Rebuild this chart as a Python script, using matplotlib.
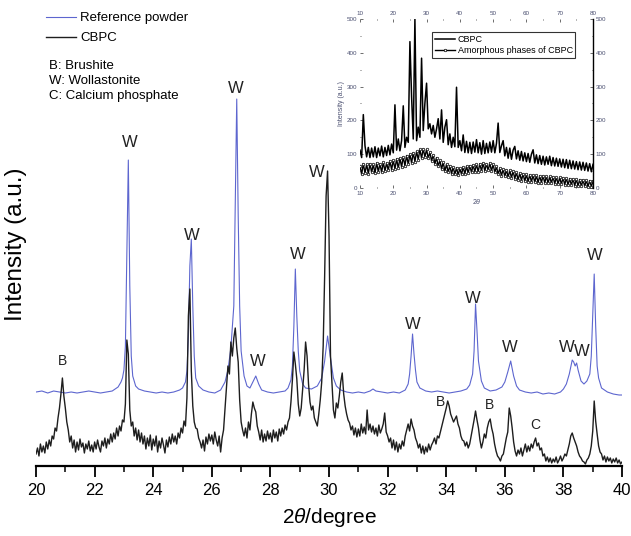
import numpy as np
import matplotlib
matplotlib.use('Agg')
import matplotlib.pyplot as plt
from matplotlib.ticker import MultipleLocator

plt.rcParams['font.family'] = ['Liberation Sans', 'DejaVu Sans']
plt.rcParams['mathtext.fontset'] = 'custom'
plt.rcParams['mathtext.it'] = 'Liberation Sans:italic'

# --- main pattern, 2theta 20-40 ---
# CBPC, sampled every 0.05 deg
cbpc_2theta = np.linspace(20, 40, 401)
cbpc_int = [
    12, 18, 10, 22, 14, 20, 13, 24, 17, 26, 20, 30, 27, 38, 35, 48, 58, 72, 88, 70,
    58, 44, 36, 24, 30, 18, 26, 14, 24, 16, 27, 19, 23, 13, 22, 17, 25, 15, 21, 14,
    24, 17, 26, 19, 14, 25, 20, 28, 18, 27, 22, 32, 24, 33, 27, 38, 30, 40, 35, 46,
    44, 62, 126, 112, 56, 40, 44, 30, 38, 26, 36, 24, 33, 22, 30, 17, 28, 20, 31, 16,
    27, 20, 30, 14, 25, 18, 28, 21, 13, 26, 19, 29, 22, 32, 24, 30, 22, 33, 28, 38,
    33, 45, 40, 68, 150, 177, 95, 60, 44, 38, 37, 28, 24, 18, 26, 15, 29, 22, 32, 25,
    31, 22, 34, 26, 20, 30, 14, 28, 36, 57, 78, 100, 92, 124, 110, 128, 138, 118, 104, 66,
    44, 36, 30, 38, 28, 44, 36, 52, 64, 58, 54, 40, 34, 26, 36, 24, 32, 25, 35, 27,
    33, 24, 36, 28, 34, 25, 37, 30, 38, 32, 41, 36, 44, 48, 64, 86, 114, 102, 87, 62,
    50, 58, 77, 96, 124, 110, 82, 64, 56, 60, 48, 44, 40, 52, 66, 84, 120, 190, 270, 295,
    230, 110, 83, 56, 48, 63, 58, 70, 84, 93, 72, 60, 52, 46, 43, 36, 40, 31, 38, 29,
    37, 30, 42, 33, 39, 32, 56, 36, 42, 34, 40, 32, 38, 30, 41, 33, 37, 42, 53, 34,
    30, 24, 28, 18, 26, 16, 24, 14, 22, 17, 25, 20, 30, 36, 42, 35, 47, 40, 36, 28,
    24, 18, 22, 13, 20, 12, 19, 14, 22, 16, 21, 24, 28, 22, 30, 28, 34, 40, 46, 52,
    58, 65, 60, 52, 48, 44, 47, 50, 42, 38, 30, 26, 25, 20, 24, 18, 22, 30, 38, 46,
    55, 46, 38, 26, 18, 24, 32, 28, 38, 44, 47, 38, 32, 22, 15, 10, 8, 5, 10, 12,
    20, 28, 34, 58, 50, 38, 24, 15, 10, 16, 12, 18, 10, 16, 22, 14, 20, 15, 22, 18,
    24, 28, 20, 23, 16, 18, 10, 12, 5, 9, 4, 8, 3, 7, 4, 9, 3, 6, 10, 5,
    8, 12, 10, 16, 22, 30, 33, 28, 24, 20, 14, 10, 8, 5, 4, 2, 6, 8, 12, 20,
    35, 65, 45, 32, 20, 14, 12, 6, 10, 4, 9, 5, 8, 3, 7, 4, 8, 3, 6, 2,
    4,
]

# reference powder (already offset above the CBPC trace)
ref_2theta = [
    20.0, 20.2, 20.4, 20.6, 20.8, 21.0, 21.2, 21.4, 21.6, 21.8, 22.0, 22.2, 22.4, 22.6,
    22.7, 22.8, 22.9, 22.95, 23.0, 23.05, 23.1, 23.15, 23.2, 23.25, 23.3, 23.4, 23.5,
    23.7, 23.9, 24.1, 24.3, 24.5, 24.7, 24.9, 25.0, 25.1, 25.15, 25.2, 25.25, 25.3,
    25.35, 25.4, 25.45, 25.55, 25.7, 25.9, 26.1, 26.3, 26.45, 26.55, 26.65, 26.75,
    26.8, 26.85, 26.9, 26.95, 27.0, 27.1, 27.2, 27.3, 27.4, 27.5, 27.6, 27.7, 27.9,
    28.1, 28.3, 28.5, 28.6, 28.7, 28.75, 28.8, 28.85, 28.9, 28.95, 29.0, 29.1, 29.2,
    29.4, 29.6, 29.75, 29.85, 29.95, 30.05, 30.15, 30.25, 30.4, 30.6, 30.8, 31.0,
    31.2, 31.4, 31.5, 31.6, 31.8, 32.0, 32.2, 32.4, 32.6, 32.7, 32.75, 32.8, 32.85,
    32.9, 32.95, 33.0, 33.1, 33.3, 33.5, 33.7, 33.9, 34.1, 34.3, 34.5, 34.7, 34.8,
    34.9, 34.95, 35.0, 35.05, 35.1, 35.2, 35.3, 35.5, 35.7, 35.9, 36.0, 36.1, 36.2,
    36.3, 36.4, 36.5, 36.7, 36.9, 37.1, 37.3, 37.5, 37.7, 37.9, 38.0, 38.1, 38.2,
    38.3, 38.35, 38.4, 38.45, 38.5, 38.6, 38.7, 38.8, 38.9, 38.95, 39.0, 39.05, 39.1,
    39.15, 39.2, 39.3, 39.5, 39.7, 39.9, 40.0,
]
ref_int = [
    74, 75, 73, 75, 74, 73, 74, 73, 74, 75, 74, 73, 74, 75,
    77, 79, 84, 88, 96, 120, 210, 306, 180, 110, 90, 80, 77,
    75, 74, 73, 74, 73, 74, 76, 78, 84, 95, 130, 200, 227,
    160, 110, 88, 80, 76, 74, 73, 76, 84, 96, 118, 160,
    260, 367, 250, 160, 115, 90, 80, 78, 84, 90, 82, 76, 74,
    73, 74, 75, 78, 86, 100, 140, 197, 150, 115, 95, 82, 78,
    77, 80, 88, 105, 130, 108, 88, 80, 76, 74, 73, 74,
    73, 75, 77, 75, 74, 73, 74, 73, 76, 82, 92, 110, 132,
    112, 96, 84, 78, 75, 74, 75, 74, 73, 74, 75, 77, 81,
    92, 115, 162, 135, 105, 85, 78, 75, 76, 79, 84, 94, 105,
    90, 80, 76, 74, 73, 74, 72, 73, 72, 74, 77, 82, 92,
    106, 104, 100, 103, 96, 85, 82, 85, 92, 110, 150, 192, 140,
    100, 88, 78, 74, 72, 71, 71,
]

# phase labels: letter, 2theta, height, font size
peak_labels = [
    ('B', 20.92, 105, 10), ('W', 23.2, 324, 12), ('W', 25.32, 231, 12),
    ('W', 26.83, 378, 12), ('W', 27.58, 105, 12), ('W', 28.94, 212, 12),
    ('W', 29.59, 294, 12), ('W', 32.87, 142, 12), ('W', 34.91, 168, 12),
    ('W', 36.18, 119, 12), ('W', 38.12, 119, 12), ('W', 38.63, 115, 12),
    ('W', 39.08, 211, 12), ('B', 33.79, 64, 10), ('B', 35.49, 61, 10),
    ('C', 37.03, 41, 10),
]

# --- inset: full range 10-80, every 0.5 deg ---
inset_2theta = np.linspace(10, 80, 141)
inset_cbpc = [
    112, 90, 217, 125, 92, 120, 90, 118, 92, 122, 90, 118, 95, 124, 92, 120, 96, 126, 98, 130,
    104, 246, 112, 145, 110, 140, 243, 120, 150, 135, 433, 271, 145, 500, 140, 180, 150, 384, 170, 251,
    310, 175, 190, 160, 185, 150, 175, 205, 145, 231, 135, 180, 202, 128, 160, 120, 150, 122, 298, 120,
    140, 110, 157, 105, 138, 104, 135, 102, 136, 106, 143, 104, 134, 100, 140, 102, 132, 104, 136, 106,
    140, 104, 132, 192, 105, 125, 140, 95, 120, 88, 118, 85, 112, 123, 86, 110, 82, 108, 80, 104,
    78, 102, 76, 100, 113, 74, 98, 72, 96, 70, 94, 68, 92, 70, 94, 66, 90, 65, 88, 64,
    86, 62, 85, 60, 84, 58, 82, 57, 80, 56, 78, 54, 77, 53, 76, 52, 74, 50, 72, 48,
    70,
]
inset_amorph = [
    66, 40, 72, 44, 70, 42, 72, 46, 70, 44, 74, 48, 72, 46, 76, 50, 74, 52, 80, 54,
    82, 56, 86, 58, 88, 62, 92, 66, 96, 70, 100, 74, 104, 78, 108, 84, 114, 88, 116, 92,
    114, 88, 106, 80, 98, 72, 90, 64, 82, 56, 76, 50, 70, 46, 66, 42, 62, 40, 60, 38,
    58, 40, 62, 42, 64, 44, 66, 46, 68, 48, 70, 48, 72, 50, 74, 50, 72, 52, 74, 50,
    70, 46, 64, 40, 58, 36, 56, 34, 54, 32, 52, 30, 50, 28, 46, 24, 44, 22, 42, 20,
    40, 19, 39, 18, 38, 17, 37, 16, 36, 16, 36, 15, 35, 14, 34, 14, 33, 13, 32, 12,
    31, 11, 30, 10, 29, 9, 28, 8, 27, 7, 26, 6, 25, 5, 24, 5, 23, 4, 22, 4,
    21,
]

BLUE = '#5d66cf'
BLACK = '#1e1e1e'

fig = plt.figure(figsize=(6.31, 5.36), dpi=100)
ax = fig.add_axes([0.0571, 0.1306, 0.9287, 0.832])

ax.plot(ref_2theta, ref_int, color=BLUE, lw=0.8, label='Reference powder')
ax.plot(cbpc_2theta, cbpc_int, color=BLACK, lw=1.0, label='CBPC')

for txt, x, y, fs in peak_labels:
    ax.text(x, y, txt, fontsize=fs, ha='center', va='center', color='#222222')

ax.set_xlim(20, 40)
ax.set_ylim(0, 446)
for s in ('left', 'right', 'top'):
    ax.spines[s].set_visible(False)
ax.spines['bottom'].set_linewidth(1.6)
ax.set_yticks([])
ax.xaxis.set_major_locator(MultipleLocator(2))
ax.xaxis.set_minor_locator(MultipleLocator(1))
ax.tick_params(axis='x', which='major', direction='out', length=8, width=1.3,
               labelsize=12, pad=4)
ax.tick_params(axis='x', which='minor', direction='out', length=4, width=1.1)
ax.set_xlabel(r'2$\mathit{\theta}$/degree', fontsize=15, labelpad=6)
fig.text(0.026, 0.545, 'Intensity (a.u.)', rotation=90, fontsize=17.5,
         ha='center', va='center')

leg = ax.legend(loc='upper left', bbox_to_anchor=(0.008, 1.03), frameon=False,
                fontsize=9.5, handlelength=2.3, handletextpad=0.3,
                labelspacing=0.6, borderaxespad=0)
fig.text(0.078, 0.849, 'B: Brushite\nW: Wollastonite\nC: Calcium phosphate',
         fontsize=9.5, ha='left', va='center', linespacing=1.33)

# inset
axi = fig.add_axes([0.5705, 0.6493, 0.3693, 0.3153])
axi.plot(inset_2theta, inset_cbpc, color='black', lw=1.1, label='CBPC')
axi.plot(inset_2theta, inset_amorph, color='black', lw=1.0, marker='o',
         markersize=1.8, mfc='white', mew=0.5, label='Amorphous phases of CBPC')
axi.set_xlim(10, 80)
axi.set_ylim(0, 500)
for s in ('left', 'top', 'bottom'):
    axi.spines[s].set_visible(False)
axi.spines['right'].set_linewidth(1.0)
axi.xaxis.set_major_locator(MultipleLocator(10))
axi.xaxis.set_minor_locator(MultipleLocator(5))
axi.yaxis.set_major_locator(MultipleLocator(100))
axi.yaxis.set_minor_locator(MultipleLocator(50))
axi.tick_params(which='both', direction='in', top=True, right=True,
                labeltop=True, labelright=True, labelsize=4.5,
                labelcolor='#4a4f70', colors='#555555', width=0.6, pad=2)
axi.tick_params(which='major', length=2)
axi.tick_params(which='minor', length=1)
axi.set_xlabel(r'2$\mathit{\theta}$', fontsize=5, labelpad=1, color='#4a4f70')
axi.set_ylabel('Intensity (a.u.)', fontsize=5, labelpad=1, color='#4a4f70')
lg = axi.legend(loc='upper left', bbox_to_anchor=(0.31, 0.92), fontsize=6.5,
                frameon=True, fancybox=False, edgecolor='black',
                handlelength=2.2, handletextpad=0.3, labelspacing=0.2,
                borderpad=0.3, borderaxespad=0)
lg.get_frame().set_linewidth(0.8)

fig.savefig('out.png', dpi=100)
